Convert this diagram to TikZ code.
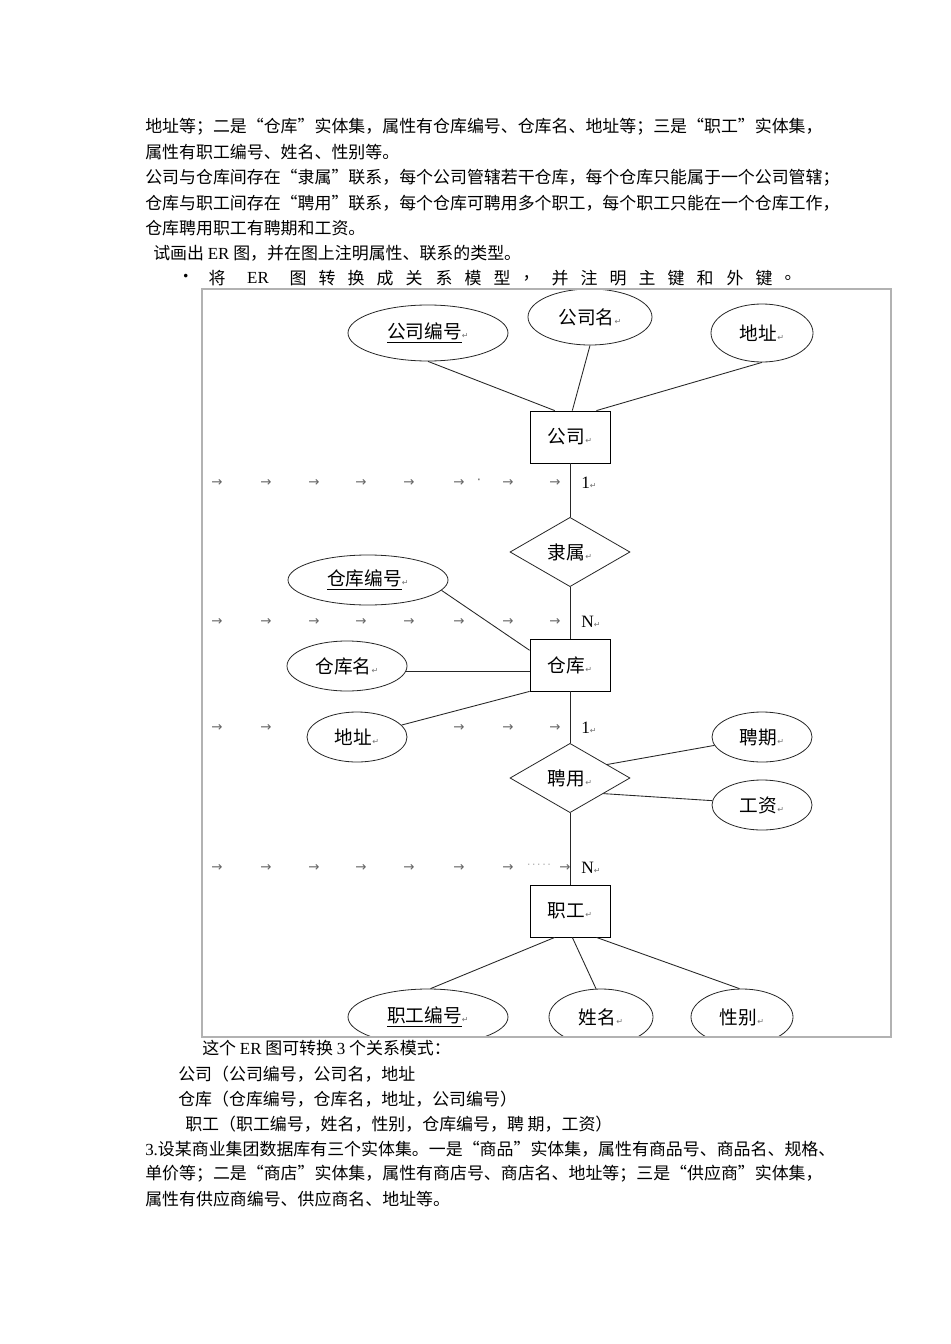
\documentclass[tikz,border=0pt]{standalone}
\usepackage{fontspec}
\setmainfont{Liberation Serif}
\newfontfamily\cjk{Noto Sans CJK SC}
\newfontfamily\markfont{DejaVu Sans}
\usetikzlibrary{shapes.geometric}
\newcommand{\retmark}{{\markfont\fontsize{6}{6}\selectfont\textcolor{black!55}{↵}}}

\begin{document}
\begin{tikzpicture}[
        x=0.75pt, y=-0.75pt,
        conn/.style={draw=black!85, line width=0.65pt},
        entity/.style={
            rectangle,
            draw=black,
            line width=0.6pt,
            fill=white,
            minimum width=60pt,
            minimum height=39pt,
            font=\cjk\fontsize{14}{14}\selectfont
        },
        attr/.style={
            ellipse,
            draw=black!85,
            line width=0.6pt,
            fill=white,
            inner sep=0pt,
            font=\cjk\fontsize{14}{14}\selectfont
        },
        rel/.style={
            diamond,
            draw=black!85,
            line width=0.6pt,
            fill=white,
            minimum width=90pt,
            minimum height=52pt,
            inner sep=0pt,
            font=\cjk\fontsize{14}{14}\selectfont
        },
        card/.style={anchor=west, inner sep=0pt, font=\fontsize{13}{13}\selectfont},
        para/.style={anchor=west, inner sep=0pt, font=\cjk\fontsize{12.7}{15}\selectfont},
        tabmark/.style={inner sep=0pt, font=\markfont\fontsize{10}{10}\selectfont, text=black!60}
    ]

    \fill[white] (0,0) rectangle (950,1344);
    \useasboundingbox (0,0) rectangle (950,1344);

    % text above the figure
    \node[para] (t1) at (145,127) {地址等；二是“仓库”实体集，属性有仓库编号、仓库名、地址等；三是“职工”实体集，};
    \node[para] (t2) at (145,152) {属性有职工编号、姓名、性别等。};
    \node[para] (t3) at (145,178) {公司与仓库间存在“隶属”联系，每个公司管辖若干仓库，每个仓库只能属于一个公司管辖；};
    \node[para] (t4) at (145,203) {仓库与职工间存在“聘用”联系，每个仓库可聘用多个职工，每个职工只能在一个仓库工作，};
    \node[para] (t5) at (145,228) {仓库聘用职工有聘期和工资。};
    \node[para] (t6) at (153,253) {试画出 {\rmfamily ER} 图，并在图上注明属性、联系的类型。};
    \node[para] (bul) at (177,278) {•};
    \node[para, anchor=center] (er) at (258,278) {\rmfamily ER};
    \foreach \cx/\ch [count=\i] in {217/将, 298/图, 327/转, 356/换, 385/成, 414/关, 444/系, 473/模, 502/型,
            531/，, 560/并, 589/注, 618/明, 647/主, 676/键, 705/和, 735/外, 764/键, 793/。}
        \node[para, anchor=center] (w\i) at (\cx,278) {\ch};

    % tab marks
    \foreach \ty in {483, 622, 868}
        \foreach \tx [count=\j] in {217, 266, 314, 361, 409, 459, 508}
            \node[tabmark] (tab\ty-\j) at (\tx,\ty) {→};
    \foreach \ty in {483, 622, 728}
        \node[tabmark] (tabe\ty) at (555,\ty) {→};
    \foreach \tx [count=\j] in {217, 266, 459, 508}
        \node[tabmark] (tab728-\j) at (\tx,728) {→};
    \node[tabmark] (dot1) at (479,482) {·};
    \node[tabmark, font=\markfont\fontsize{6}{6}\selectfont] (dots) at (539,866) {· · · · ·};
    \node[tabmark] (tabe868) at (565,868) {→};

    \begin{scope}
        \clip (202,289) rectangle (891,1037);

        \node[attr, minimum width=120pt, minimum height=42pt] (gsbh) at (428,333) {\underline{公司编号}\retmark};
        \node[attr, minimum width=93pt, minimum height=42pt] (gsm) at (590,317) {公司名\retmark};
        \node[attr, minimum width=76.5pt, minimum height=43.5pt] (gsdz) at (762,333) {地址\retmark};
        \node[entity] (gs) at (570,437) {公司\retmark};

        \node[rel] (ls) at (570,552) {隶属\retmark};

        \node[entity] (ck) at (570,665) {仓库\retmark};
        \node[attr, minimum width=120pt, minimum height=37.5pt] (ckbh) at (368,580) {\underline{仓库编号}\retmark};
        \node[attr, minimum width=90pt, minimum height=37.5pt] (ckm) at (347,666) {仓库名\retmark};
        \node[attr, minimum width=75pt, minimum height=37.5pt] (ckdz) at (357,737) {地址\retmark};

        \node[rel] (py) at (570,778) {聘用\retmark};
        \node[attr, minimum width=75pt, minimum height=37.5pt] (pq) at (762,737) {聘期\retmark};
        \node[attr, minimum width=75pt, minimum height=37.5pt] (gz) at (762,805) {工资\retmark};

        \node[entity] (zg) at (570,911) {职工\retmark};
        \node[attr, minimum width=120pt, minimum height=42pt] (zgbh) at (428,1017) {\underline{职工编号}\retmark};
        \node[attr, minimum width=78pt, minimum height=42pt] (xm) at (601,1017) {姓名\retmark};
        \node[attr, minimum width=76.5pt, minimum height=42pt] (xb) at (742,1017) {性别\retmark};

        \draw[conn] (gsbh.south) -- (gs.120);
        \draw[conn] (gsm.south) -- (gs.85);
        \draw[conn] (gsdz.south) -- (gs.45);
        \draw[conn] (gs.south) -- (ls.north);
        \draw[conn] (ls.south) -- (ck.north);
        \draw[conn] (ckbh.-8) -- (ck.160);
        \draw[conn] (ckm.-5) -- (ckm.-5 -| ck.west);
        \draw[conn] (ckdz.15) -- (ck.south west);
        \draw[conn] (ck.south) -- (py.north);
        \draw[conn] (py.20) -- (pq.190);
        \draw[conn] (py.-25) -- (gz.175);
        \draw[conn] (py.south) -- (zg.north);
        \draw[conn] (zg.-120) -- (zgbh.85);
        \draw[conn] (zg.-85) -- (xm.100);
        \draw[conn] (zg.-45) -- (xb.95);
    \end{scope}

    \node[card] (c1) at (581,483) {1\retmark};
    \node[card] (cn1) at (581,622) {N\retmark};
    \node[card] (c2) at (581,728) {1\retmark};
    \node[card] (cn2) at (581,868) {N\retmark};

    \draw[black!30, line width=0.8pt] (202,289) rectangle (891,1037);

    % text below the figure
    \node[para] (b1) at (202,1048) {这个 {\rmfamily ER} 图可转换 {\rmfamily 3} 个关系模式：};
    \node[para] (b2) at (178,1074) {公司（公司编号，公司名，地址};
    \node[para] (b3) at (178,1099) {仓库（仓库编号，仓库名，地址，公司编号）};
    \node[para] (b4) at (185,1124) {职工（职工编号，姓名，性别，仓库编号，聘 期，工资）};
    \node[para] (b5) at (145,1149) {{\rmfamily 3.}设某商业集团数据库有三个实体集。一是“商品”实体集，属性有商品号、商品名、规格、};
    \node[para] (b6) at (145,1174) {单价等；二是“商店”实体集，属性有商店号、商店名、地址等；三是“供应商”实体集，};
    \node[para] (b7) at (145,1199) {属性有供应商编号、供应商名、地址等。};

\end{tikzpicture}
\end{document}
